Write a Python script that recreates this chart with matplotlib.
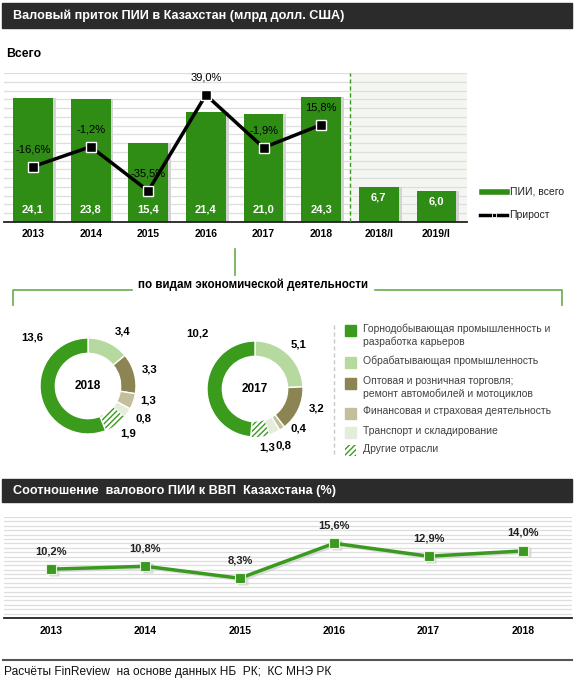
import numpy as np
import matplotlib
matplotlib.use("Agg")
import matplotlib.pyplot as plt
from matplotlib.patches import Rectangle
from matplotlib.lines import Line2D

plt.rcParams["font.family"] = ["Liberation Sans", "DejaVu Sans"]

# --- data -------------------------------------------------------------
bar_labels = ["2013", "2014", "2015", "2016", "2017", "2018", "2018/I", "2019/I"]
fdi_total = [24.1, 23.8, 15.4, 21.4, 21.0, 24.3, 6.7, 6.0]
growth_pct = [-16.6, -1.2, -35.5, 39.0, -1.9, 15.8]

sectors = [
    "Горнодобывающая промышленность и\nразработка карьеров",
    "Обрабатывающая промышленность",
    "Оптовая и розничная торговля;\nремонт автомобилей и мотоциклов",
    "Финансовая и страховая деятельность",
    "Транспорт и складирование",
    "Другие отрасли",
]
sector_2018 = [13.6, 3.4, 3.3, 1.3, 0.8, 1.9]
sector_2017 = [10.2, 5.1, 3.2, 0.4, 0.8, 1.3]

gdp_years = ["2013", "2014", "2015", "2016", "2017", "2018"]
fdi_to_gdp = [10.2, 10.8, 8.3, 15.6, 12.9, 14.0]

# --- styles -----------------------------------------------------------
W, H = 574, 680
BAR_GREEN = "#2f8c14"
LINE_GREEN = "#3a9a1f"
GRID = "#dedede"
sector_colors = ["#3a9b1d", "#b6d9a0", "#8d8454", "#c3bf9c", "#e4edda", "#eef5e8"]
pie_order = [1, 2, 3, 4, 5, 0]  # clockwise from 12 o'clock
# label positions (in donut radii), same order as pie_order
lbl_pos_2018 = [(0.72, 1.13), (1.28, 0.34), (1.26, -0.30), (1.15, -0.68), (0.83, -0.98), (-1.17, 1.02)]
lbl_pos_2017 = [(0.90, 0.92), (1.29, -0.40), (0.90, -0.83), (0.60, -1.17), (0.25, -1.21), (-1.19, 1.15)]

fig = plt.figure(figsize=(W / 100, H / 100), dpi=100)


def px_axes(left, top, width, height):
    return fig.add_axes([left / W, 1 - (top + height) / H, width / W, height / H])


# overlay in pixel coordinates for decorations
ov = px_axes(0, 0, W, H)
ov.set_xlim(0, W)
ov.set_ylim(H, 0)
ov.axis("off")

ov.add_patch(Rectangle((2, 3), 570, 25, color="#2b2b2b"))
ov.text(13, 16, "Валовый приток ПИИ в Казахстан (млрд долл. США)", color="white",
        fontsize=9.1, fontweight="bold", va="center")
ov.text(6, 54, "Всего", fontsize=8.8, fontweight="bold", va="center")

# bar legend
ov.add_line(Line2D([482, 507], [192, 192], color=BAR_GREEN, lw=4))
ov.text(510, 192, "ПИИ, всего", fontsize=7.5, va="center", color="#222")
ov.add_line(Line2D([480, 507], [215, 215], color="black", lw=2.5))
ov.plot([493.5], [215], marker="s", ms=2.5, color="black", mec="white", mew=0.6)
ov.text(509, 215, "Прирост", fontsize=7.5, va="center", color="#222")

# connector & bracket
ov.add_line(Line2D([235, 235], [249, 275], color="#6aaa4a", lw=1.2))
ov.text(253, 285, "по видам экономической деятельности", fontsize=8.4, fontweight="bold",
        ha="center", va="center")
ov.add_line(Line2D([13, 13, 132], [305, 290, 290], color="#6aaa4a", lw=1.2))
ov.add_line(Line2D([375, 562, 562], [290, 290, 305], color="#6aaa4a", lw=1.2))

# donut legend
ov.add_line(Line2D([334, 334], [325, 457], color="#c8c8c8", lw=1, ls=(0, (3, 2))))
legend_y = [330, 362, 383, 413, 432, 450]
for name, col, y in zip(sectors, sector_colors, legend_y):
    if name == "Другие отрасли":
        ov.add_patch(Rectangle((345, y - 5.5), 11, 11, facecolor="white",
                               edgecolor=LINE_GREEN, hatch="//////", lw=0))
    else:
        ov.add_patch(Rectangle((345, y - 5.5), 11, 11, color=col))
    ov.text(363, y - 6.5, name, fontsize=7.5, va="top", color="#404040", linespacing=1.25)

# second title + footer
ov.add_patch(Rectangle((2, 479), 570, 23, color="#2b2b2b"))
ov.text(13, 491, "Соотношение  валового ПИИ к ВВП  Казахстана (%)", color="white",
        fontsize=9.1, fontweight="bold", va="center")
ov.add_line(Line2D([3, 572], [660, 660], color="#555555", lw=1.5))
ov.text(4, 672, "Расчёты FinReview  на основе данных НБ  РК;  КС МНЭ РК", fontsize=8.6,
        va="center", color="#111")

# --- bar chart --------------------------------------------------------
ax = px_axes(4, 73, 463, 149)
x = np.arange(len(bar_labels))
ytop = 149 / 5.15
ax.set_xlim(-0.503, 7.53)
ax.set_ylim(0, ytop)
ax.axvspan(5.5, 7.53, color="#f4f7f1", zorder=0)
ax.set_yticks(np.linspace(0, ytop, 18))
ax.yaxis.grid(True, color=GRID, lw=0.9)
ax.set_axisbelow(True)
ax.bar(x + 0.05, fdi_total, width=0.69, color="#d4d4d4", zorder=1)
ax.bar(x, fdi_total, width=0.69, color=BAR_GREEN, zorder=2)
for xi, v in zip(x, fdi_total):
    yl = v - 2.0 if v < 10 else 2.5
    ax.text(xi, yl, f"{v:.1f}".replace(".", ","), color="white", fontsize=8,
            fontweight="bold", ha="center", va="center", zorder=5)
ax.axvline(5.5, color=LINE_GREEN, lw=1, ls=(0, (3, 2)), zorder=3)
ax.set_xticks(x)
ax.set_xticklabels(bar_labels, fontsize=7.5, fontweight="bold")
ax.tick_params(axis="x", length=0, pad=5)
ax.tick_params(axis="y", length=0, labelleft=False)
for s in ["top", "right", "left"]:
    ax.spines[s].set_visible(False)
ax.spines["bottom"].set_color("#222")
ax.spines["bottom"].set_linewidth(1.3)

ax2 = ax.twinx()
ax2.set_ylim(-59.6, 56.0)
ax2.axis("off")
xg = np.arange(len(growth_pct))
ax2.plot(xg, growth_pct, color="black", lw=2.5, marker="s", ms=6.5,
         mfc="black", mec="white", mew=1, zorder=4)
for xi, v in zip(xg, growth_pct):
    ax2.annotate(f"{v:.1f}%".replace(".", ","), (xi, v), xytext=(0, 12.5),
                 textcoords="offset points", ha="center", va="center", fontsize=8)

# --- donuts -----------------------------------------------------------
def donut(left, top, values, year, lbl_pos):
    axd = px_axes(left, top, 96, 96)
    vals = [values[i] for i in pie_order]
    cols = [sector_colors[i] for i in pie_order]
    wedges, _ = axd.pie(vals, colors=cols, startangle=90, counterclock=False, radius=1,
                        wedgeprops=dict(width=0.32, edgecolor="white", linewidth=1))
    other = wedges[pie_order.index(5)]
    other.set_facecolor("white")
    other.set_edgecolor(LINE_GREEN)
    other.set_hatch("//////")
    other.set_linewidth(0)
    axd.set_xlim(-1, 1)
    axd.set_ylim(-1, 1)
    axd.text(0, 0, year, ha="center", va="center", fontsize=8.5, fontweight="bold")
    for v, (lx, ly) in zip(vals, lbl_pos):
        axd.text(lx, ly, f"{v:.1f}".replace(".", ","), ha="center", va="center",
                 fontsize=8.2, fontweight="bold")


donut(40, 338, sector_2018, "2018", lbl_pos_2018)
donut(207, 341, sector_2017, "2017", lbl_pos_2017)

# --- FDI / GDP line chart ---------------------------------------------
ax3 = px_axes(4, 517, 568, 101)
xl = np.arange(len(gdp_years))
ytop3 = 101 / 4.79
ax3.set_xlim(-0.498, 5.52)
ax3.set_ylim(0, ytop3)
ax3.set_yticks(np.linspace(0, ytop3, 24))
ax3.yaxis.grid(True, color=GRID, lw=0.9)
ax3.set_axisbelow(True)
ax3.plot(xl + 0.03, np.array(fdi_to_gdp) - 0.3, color="#cfcfcf", lw=2.5, marker="s", ms=7,
         mec="none", zorder=2, alpha=0.7)
ax3.plot(xl, fdi_to_gdp, color=LINE_GREEN, lw=2.5, marker="s", ms=7,
         mfc=LINE_GREEN, mec="#e9f4e0", mew=0.8, zorder=3)
for xi, v in zip(xl, fdi_to_gdp):
    ax3.annotate(f"{v:.1f}%".replace(".", ","), (xi, v), xytext=(0, 13),
                 textcoords="offset points", ha="center", va="center", fontsize=8,
                 fontweight="bold", color="#222")
ax3.set_xticks(xl)
ax3.set_xticklabels(gdp_years, fontsize=7.5, fontweight="bold")
ax3.tick_params(axis="x", length=0, pad=6)
ax3.tick_params(axis="y", length=0, labelleft=False)
for s in ["top", "right", "left"]:
    ax3.spines[s].set_visible(False)
ax3.spines["bottom"].set_color("#222")
ax3.spines["bottom"].set_linewidth(1.3)

fig.savefig("out.png", dpi=100)
